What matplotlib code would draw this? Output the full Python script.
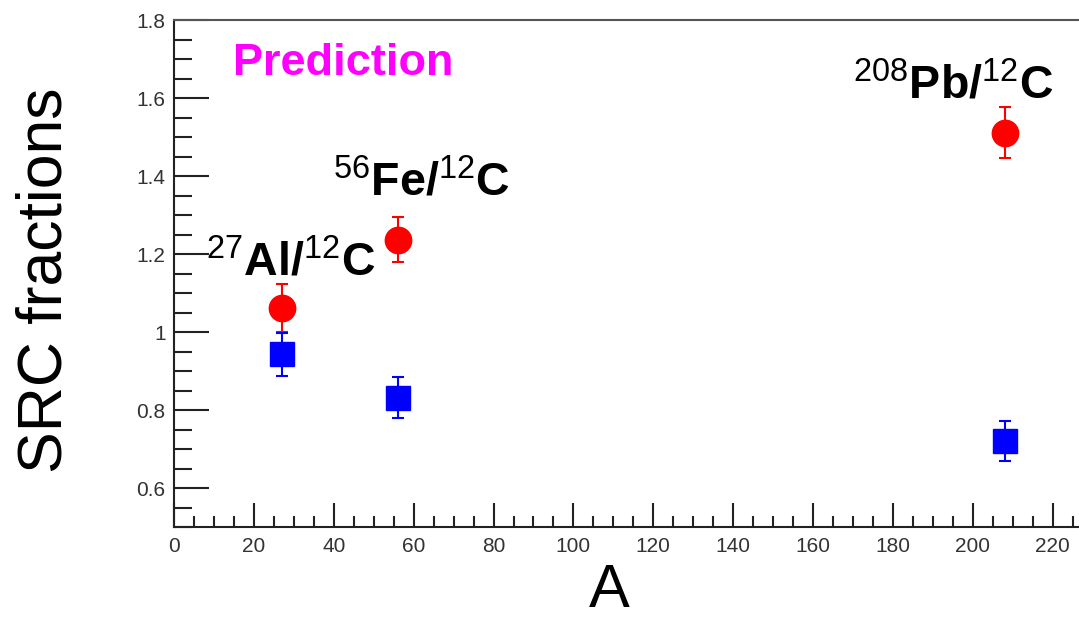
import matplotlib
matplotlib.use("Agg")
import matplotlib.pyplot as plt
from matplotlib.ticker import MultipleLocator

from matplotlib import rcParams
rcParams["font.family"] = "Liberation Sans"
rcParams["mathtext.fontset"] = "custom"
rcParams["mathtext.rm"] = "Liberation Sans"
rcParams["mathtext.it"] = "Liberation Sans"

# Mass numbers of the nuclei
A = [27, 56, 208]

# Red circles and their errors
red_y = [1.062, 1.237, 1.511]
red_err = [0.062, 0.057, 0.065]

# Blue squares and their errors
blue_y = [0.943, 0.832, 0.721]
blue_err = [0.055, 0.052, 0.051]

labels = [r"$^{27}$Al/$^{12}$C", r"$^{56}$Fe/$^{12}$C", r"$^{208}$Pb/$^{12}$C"]
label_pos = [(8.0, 1.144), (39.8, 1.349), (170.0, 1.597)]

fig = plt.figure(figsize=(10.79, 6.22), dpi=100)
ax = fig.add_axes([0.1613, 0.1527, 0.8387, 0.8151])

ax.errorbar(A, red_y, yerr=red_err, fmt="o", color="#ff0000", ms=19,
            elinewidth=1.5, capsize=4.5, capthick=1.5)
ax.errorbar(A, blue_y, yerr=blue_err, fmt="s", color="#0000ff", ms=17,
            elinewidth=1.5, capsize=4.5, capthick=1.5)

for txt, (x, y) in zip(labels, label_pos):
    ax.text(x, y, txt, fontsize=33.5, fontweight="bold", ha="left", va="baseline")

ax.text(14.8, 1.66, "Prediction", color="#ff00ff", fontsize=32.5,
        fontweight="bold", ha="left", va="baseline")

ax.set_xlim(0, 226.6)
ax.set_ylim(0.5, 1.8)
ax.xaxis.set_major_locator(MultipleLocator(20))
ax.xaxis.set_minor_locator(MultipleLocator(5))
ax.yaxis.set_minor_locator(MultipleLocator(0.05))
ax.set_yticks([0.6, 0.8, 1.0, 1.2, 1.4, 1.6, 1.8])
ax.set_yticklabels(["0.6", "0.8", "1", "1.2", "1.4", "1.6", "1.8"])

ax.tick_params(which="both", direction="in", top=False, right=False,
               colors="#222222", labelcolor="#333333", labelsize=15, width=1.5)
ax.tick_params(axis="y", which="major", length=25, pad=6)
ax.tick_params(axis="y", which="minor", length=13)
ax.tick_params(axis="x", which="major", length=17, pad=7)
ax.tick_params(axis="x", which="minor", length=8)

ax.spines["right"].set_visible(False)
for s in ["left", "bottom"]:
    ax.spines[s].set_linewidth(1.5)
    ax.spines[s].set_color("#222222")
ax.spines["top"].set_linewidth(1.5)
ax.spines["top"].set_color("#555555")

fig.text(0.042, 0.55, "SRC fractions", rotation=90, ha="center", va="center",
         fontsize=45)
fig.text(0.565, 0.003, "A", ha="center", va="bottom", fontsize=44)

fig.savefig("out.png", dpi=100)
